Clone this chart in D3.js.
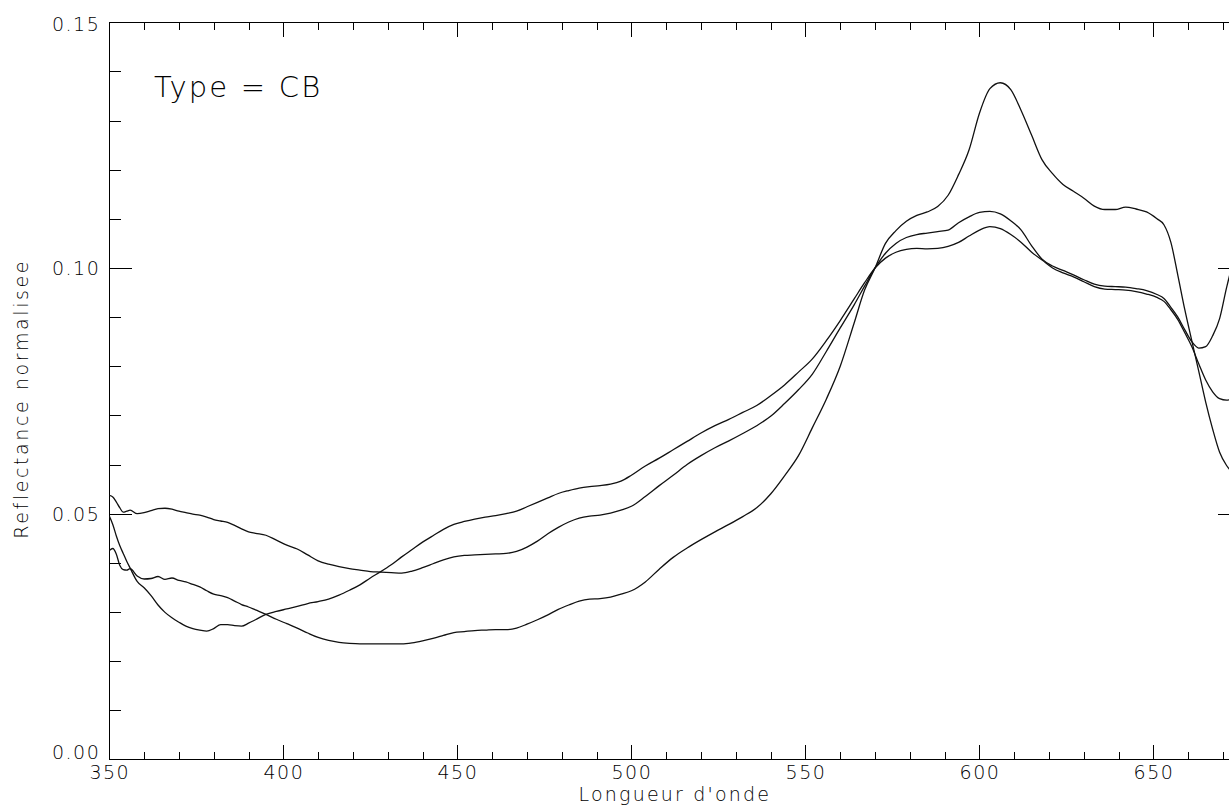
<!DOCTYPE html>
<html>
<head>
<meta charset="utf-8">
<script src="https://cdn.jsdelivr.net/npm/d3@7"></script>
<style>
  html, body { margin: 0; padding: 0; background: #fff; }
  svg { display: block; }
  text { font-family: "DejaVu Sans", sans-serif; font-weight: 200; fill: #000; }
  .tick-label { font-size: 19px; letter-spacing: 1.5px; }
  .axis-title { font-size: 19px; letter-spacing: 2.2px; }
  .y-title { letter-spacing: 2.6px; }
  .panel-label { font-size: 29px; letter-spacing: 2.2px; }
</style>
</head>
<body>
<svg id="chart" width="1229" height="805"></svg>
<script>
// Wavelength grid (nm)
const wavelengths = [
  350, 351, 352, 353, 354, 355, 356, 358, 360, 362,
  364, 366, 368, 370, 372, 374, 376, 378, 380, 382,
  384, 386, 388, 390, 392, 395, 398, 401, 404, 407,
  410, 413, 416, 419, 422, 425, 428, 431, 434, 437,
  440, 443, 446, 449, 452, 455, 458, 461, 464, 467,
  470, 473, 476, 479, 482, 485, 488, 491, 494, 497,
  500, 504, 508, 512, 516, 520, 524, 528, 532, 536,
  540, 544, 548, 552, 556, 560, 564, 567, 570, 573,
  576, 579, 582, 585, 588, 591, 594, 597, 600, 603,
  606, 609, 612, 615, 618, 621, 624, 627, 630, 633,
  636, 639, 642, 645, 648, 651, 653, 655, 657, 659,
  661, 663, 665, 667, 669, 671, 673, 675
];

// Normalised reflectance spectra
const spectrumA = [
  0.0537, 0.0534, 0.0524, 0.0512, 0.0503, 0.0505, 0.0507, 0.0500, 0.0502, 0.0506,
  0.0510, 0.0511, 0.0509, 0.0505, 0.0502, 0.0499, 0.0497, 0.0493, 0.0488, 0.0485,
  0.0482, 0.0476, 0.0469, 0.0463, 0.0460, 0.0456, 0.0446, 0.0436, 0.0428, 0.0416,
  0.0404, 0.0397, 0.0392, 0.0388, 0.0385, 0.0382, 0.0381, 0.0380, 0.0379, 0.0383,
  0.0390, 0.0398, 0.0406, 0.0412, 0.0415, 0.0416, 0.0417, 0.0418, 0.0419, 0.0423,
  0.0432, 0.0444, 0.0459, 0.0472, 0.0483, 0.0491, 0.0495, 0.0497, 0.0501, 0.0507,
  0.0515, 0.0535, 0.0557, 0.0578, 0.0600, 0.0618, 0.0634, 0.0648, 0.0663, 0.0679,
  0.0698, 0.0724, 0.0752, 0.0784, 0.0830, 0.0878, 0.0925, 0.0963, 0.1000, 0.1030,
  0.1050, 0.1062, 0.1068, 0.1071, 0.1074, 0.1077, 0.1092, 0.1104, 0.1113, 0.1115,
  0.1110, 0.1096, 0.1077, 0.1045, 0.1018, 0.1004, 0.0995, 0.0986, 0.0976, 0.0967,
  0.0963, 0.0962, 0.0961, 0.0958, 0.0954, 0.0946, 0.0938, 0.0920, 0.0900, 0.0874,
  0.0850, 0.0837, 0.0840, 0.0862, 0.0897, 0.0960, 0.1015, 0.1060
];

const spectrumB = [
  0.0495, 0.0478, 0.0455, 0.0435, 0.0419, 0.0403, 0.0389, 0.0362, 0.0349, 0.0333,
  0.0314, 0.0299, 0.0288, 0.0279, 0.0271, 0.0266, 0.0263, 0.0261, 0.0266, 0.0274,
  0.0274, 0.0272, 0.0271, 0.0277, 0.0284, 0.0295, 0.0301, 0.0306, 0.0311, 0.0317,
  0.0321, 0.0326, 0.0334, 0.0344, 0.0355, 0.0369, 0.0382, 0.0396, 0.0412, 0.0427,
  0.0442, 0.0455, 0.0468, 0.0478, 0.0484, 0.0489, 0.0493, 0.0496, 0.0500, 0.0505,
  0.0514, 0.0523, 0.0532, 0.0541, 0.0547, 0.0552, 0.0555, 0.0557, 0.0560, 0.0566,
  0.0578, 0.0597, 0.0613, 0.0630, 0.0647, 0.0664, 0.0679, 0.0692, 0.0706, 0.0720,
  0.0740, 0.0762, 0.0788, 0.0815, 0.0852, 0.0893, 0.0937, 0.0970, 0.1000, 0.1020,
  0.1032, 0.1038, 0.1040, 0.1039, 0.1040, 0.1044, 0.1052, 0.1065, 0.1077, 0.1084,
  0.1080, 0.1068, 0.1052, 0.1032, 0.1016, 0.1000, 0.0990, 0.0982, 0.0972, 0.0962,
  0.0957, 0.0956, 0.0955, 0.0952, 0.0947, 0.0940, 0.0932, 0.0915, 0.0895, 0.0868,
  0.0840, 0.0805, 0.0772, 0.0748, 0.0734, 0.0731, 0.0733, 0.0736
];

const spectrumC = [
  0.0425, 0.0429, 0.0418, 0.0395, 0.0386, 0.0385, 0.0388, 0.0373, 0.0367, 0.0368,
  0.0372, 0.0366, 0.0369, 0.0364, 0.0361, 0.0356, 0.0351, 0.0343, 0.0336, 0.0333,
  0.0329, 0.0322, 0.0315, 0.0310, 0.0304, 0.0295, 0.0285, 0.0276, 0.0267, 0.0257,
  0.0248, 0.0242, 0.0238, 0.0236, 0.0235, 0.0235, 0.0235, 0.0235, 0.0235, 0.0237,
  0.0241, 0.0246, 0.0252, 0.0258, 0.0260, 0.0262, 0.0263, 0.0264, 0.0264, 0.0267,
  0.0275, 0.0284, 0.0294, 0.0305, 0.0314, 0.0322, 0.0326, 0.0327, 0.0330, 0.0336,
  0.0343, 0.0361, 0.0387, 0.0411, 0.0430, 0.0447, 0.0463, 0.0478, 0.0494, 0.0512,
  0.0540, 0.0577, 0.0618, 0.0675, 0.0733, 0.0800, 0.0888, 0.0955, 0.1000, 0.1050,
  0.1076, 0.1095, 0.1107, 0.1114, 0.1125, 0.1148, 0.1190, 0.1240, 0.1315, 0.1365,
  0.1377, 0.1363, 0.1320, 0.1270, 0.1220, 0.1192, 0.1170, 0.1156, 0.1142, 0.1126,
  0.1119, 0.1119, 0.1124, 0.1120, 0.1114, 0.1100, 0.1088, 0.1052, 0.0985, 0.0915,
  0.0852, 0.0790, 0.0727, 0.0672, 0.0625, 0.0598, 0.0582, 0.0575
];

const xMajorTicks = [350, 400, 450, 500, 550, 600, 650];
const xMinorTicks = d3.range(350, 676, 10);
const yMajorTicks = [0.00, 0.05, 0.10, 0.15];
const yMinorTicks = d3.range(0, 16).map(i => i / 100);

const panelLabel = "Type = CB";
const xTitle = "Longueur d'onde";
const yTitle = "Reflectance normalisee";

// Plot frame
const plot = { left: 109.3, right: 1240.5, top: 22.3, bottom: 759.3 };
const plotW = plot.right - plot.left;
const plotH = plot.bottom - plot.top;

const x = d3.scaleLinear().domain([350, 675]).range([plot.left, plot.right]);
const y = d3.scaleLinear().domain([0, 0.15]).range([plot.bottom, plot.top]);

const svg = d3.select("#chart");

// Tick lengths scale with the opposite plot dimension
const xMajorLen = 0.02 * plotH, xMinorLen = 0.01 * plotH;
const yMajorLen = 0.02 * plotW, yMinorLen = 0.01 * plotW;

function styleAxis(g) {
  g.attr("font-size", null).attr("font-family", null);
  g.selectAll("path, line")
    .attr("stroke", "#000").attr("stroke-width", 1)
    .attr("shape-rendering", "crispEdges");
}

// Bottom axis
svg.append("g").attr("transform", `translate(0,${plot.bottom})`)
  .call(d3.axisBottom(x).tickValues(xMinorTicks).tickSize(-xMinorLen).tickSizeOuter(0).tickFormat(""))
  .call(styleAxis);
const bottomMajor = svg.append("g").attr("transform", `translate(0,${plot.bottom})`)
  .call(d3.axisBottom(x).tickValues(xMajorTicks).tickSize(-xMajorLen).tickSizeOuter(0)
    .tickPadding(6).tickFormat(d3.format("d")))
  .call(styleAxis);
bottomMajor.selectAll("text").attr("class", "tick-label");

// Top axis
svg.append("g").attr("transform", `translate(0,${plot.top})`)
  .call(d3.axisTop(x).tickValues(xMinorTicks).tickSize(-xMinorLen).tickSizeOuter(0).tickFormat(""))
  .call(styleAxis);
svg.append("g").attr("transform", `translate(0,${plot.top})`)
  .call(d3.axisTop(x).tickValues(xMajorTicks).tickSize(-xMajorLen).tickSizeOuter(0).tickFormat(""))
  .call(styleAxis);

// Left axis
svg.append("g").attr("transform", `translate(${plot.left},0)`)
  .call(d3.axisLeft(y).tickValues(yMinorTicks).tickSize(-yMinorLen).tickSizeOuter(0).tickFormat(""))
  .call(styleAxis);
const leftMajor = svg.append("g").attr("transform", `translate(${plot.left},0)`)
  .call(d3.axisLeft(y).tickValues(yMajorTicks).tickSize(-yMajorLen).tickSizeOuter(0)
    .tickPadding(9).tickFormat(d3.format(".2f")))
  .call(styleAxis);
leftMajor.selectAll("text")
  .attr("class", "tick-label")
  .attr("dy", d => d === 0 ? "-0.05em" : (d === 0.15 ? "0.45em" : "0.36em"));

// Right axis
svg.append("g").attr("transform", `translate(${plot.right},0)`)
  .call(d3.axisRight(y).tickValues(yMinorTicks).tickSize(-yMinorLen).tickSizeOuter(0).tickFormat(""))
  .call(styleAxis);
svg.append("g").attr("transform", `translate(${plot.right},0)`)
  .call(d3.axisRight(y).tickValues(yMajorTicks).tickSize(-yMajorLen).tickSizeOuter(0).tickFormat(""))
  .call(styleAxis);

// Spectra
svg.append("clipPath").attr("id", "plot-clip")
  .append("rect").attr("x", plot.left).attr("y", plot.top)
  .attr("width", plotW).attr("height", plotH);

const line = d3.line()
  .x((d, i) => x(wavelengths[i]))
  .y(d => y(d))
  .curve(d3.curveMonotoneX);

svg.append("g").attr("clip-path", "url(#plot-clip)")
  .selectAll("path")
  .data([spectrumA, spectrumB, spectrumC])
  .join("path")
  .attr("d", line)
  .attr("fill", "none")
  .attr("stroke", "#111")
  .attr("stroke-width", 1.3);

// Labels
svg.append("text").attr("class", "panel-label")
  .attr("x", 154).attr("y", 97)
  .text(panelLabel);

svg.append("text").attr("class", "axis-title")
  .attr("x", (plot.left + plot.right) / 2).attr("y", 800.5)
  .attr("text-anchor", "middle")
  .text(xTitle);

svg.append("text").attr("class", "axis-title y-title")
  .attr("transform", `translate(28,${(plot.top + plot.bottom) / 2 + 8}) rotate(-90)`)
  .attr("text-anchor", "middle")
  .text(yTitle);
</script>
</body>
</html>
